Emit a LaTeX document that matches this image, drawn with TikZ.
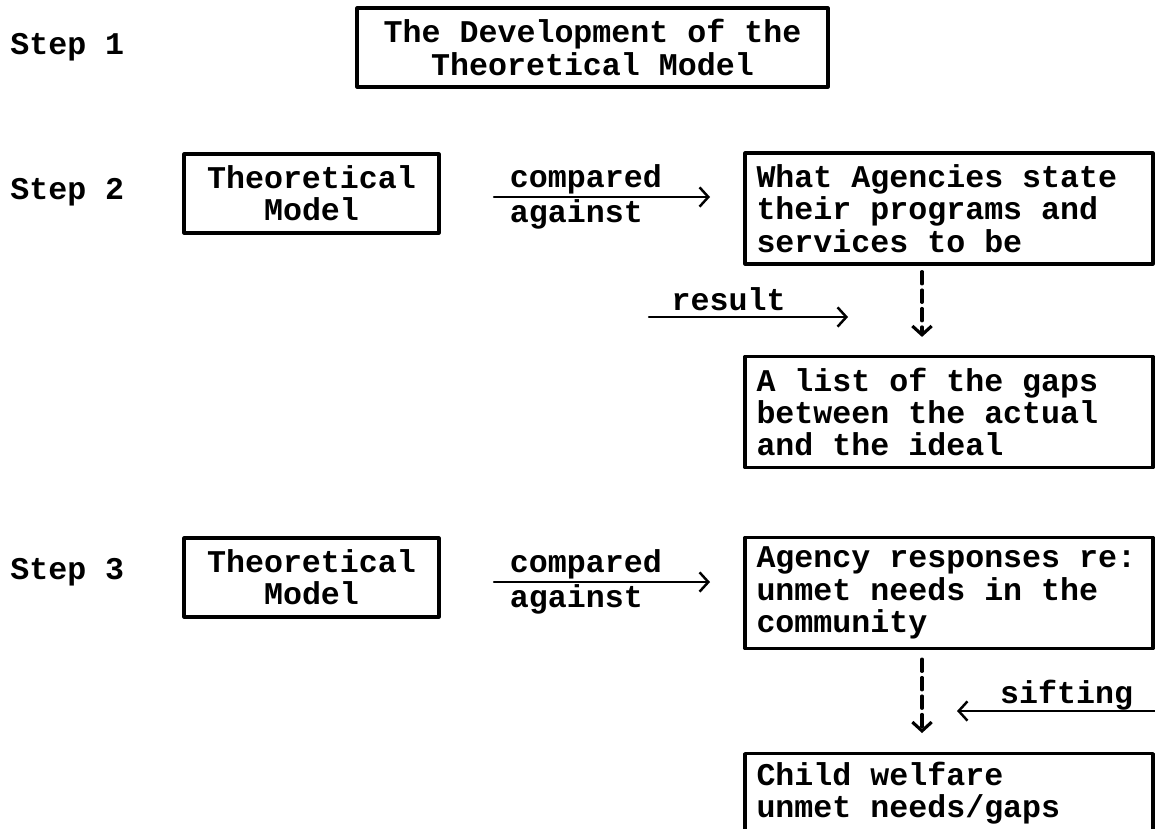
\documentclass[tikz,border=0pt]{standalone}
\usepackage{fontspec}
\setmonofont{Liberation Mono}[WordSpace={1,0,0}]
\usetikzlibrary{arrows.meta}
\begin{document}
\begin{tikzpicture}[line cap=round,line join=round,
  font=\ttfamily\bfseries\fontsize{18}{18.4}\selectfont,
  box/.style={draw,line width=1.8pt,align=center,inner sep=2pt},
  wide/.style={box,align=flush left,text width=7.7cm,inner xsep=0.23cm,minimum height=2.22cm},
  stepl/.style={anchor=west,inner sep=0pt},
  lbl/.style={inner sep=1pt},
  arr/.style={line width=1.4pt,-{Straight Barb[length=5pt,width=11pt]}},
  dasharr/.style={line width=1.8pt,dash pattern=on 7pt off 3.5pt,-{Straight Barb[length=5pt,width=11pt]}}]
  \path[use as bounding box] (0,0) rectangle (23.1,-16.56);
  \clip (0,0) rectangle (23.1,-16.56);
  % step labels
  \node[stepl] (s1) at (0.2,-0.94) {Step 1};
  \node[stepl] (s2) at (0.2,-3.84) {Step 2};
  \node[stepl] (s3) at (0.2,-11.44) {Step 3};
  % boxes
  \node[box,minimum width=9.42cm,minimum height=1.58cm] (devel) at (11.85,-0.95) {The Development of the\\Theoretical Model};
  \node[box,minimum width=5.1cm,minimum height=1.58cm] (theo2) at (6.23,-3.87) {Theoretical\\Model};
  \node[wide] (what) at (18.98,-4.17) {What Agencies state\\their programs and\\services to be};
  \node[wide] (gaps) at (18.98,-8.24) {A list of the gaps\\between the actual\\and the ideal};
  \node[box,minimum width=5.1cm,minimum height=1.58cm] (theo3) at (6.23,-11.55) {Theoretical\\Model};
  \node[wide] (resp) at (18.98,-11.86) {Agency responses re:\\unmet needs in the\\community};
  \node[wide,minimum height=1.58cm,anchor=north] (welf) at (18.98,-15.04) {Child welfare\\unmet needs/gaps};
  % free ends of the arrows
  \coordinate (c2a) at (9.88,-3.94);
  \coordinate (c2b) at (14.2,-3.94);
  \coordinate (ra) at (12.98,-6.34);
  \coordinate (rb) at (16.96,-6.34);
  \coordinate (c3a) at (9.88,-11.64);
  \coordinate (c3b) at (14.2,-11.64);
  \coordinate (sa) at (23.2,-14.22);
  \coordinate (sb) at (19.14,-14.22);
  % arrows
  \draw[arr] (c2a) -- (c2b) node[lbl,pos=0.06,anchor=south west] (c2top) {compared} node[lbl,pos=0.06,anchor=north west] (c2bot) {against};
  \draw[arr] (ra) -- (rb) node[pos=0.4,anchor=south,inner sep=3pt] (rtxt) {result};
  \draw[dasharr] ([xshift=-0.54cm,yshift=-0.12cm]what.south) -- ([xshift=-0.54cm,yshift=0.36cm]gaps.north);
  \draw[arr] (c3a) -- (c3b) node[lbl,pos=0.06,anchor=south west] (c3top) {compared} node[lbl,pos=0.06,anchor=north west] (c3bot) {against};
  \draw[dasharr] ([xshift=-0.54cm,yshift=-0.18cm]resp.south) -- ([xshift=-0.54cm,yshift=0.38cm]welf.north);
  \draw[arr] (sa) -- (sb) node[pos=0.46,anchor=south,inner sep=0pt] (stxt) {sifting};
\end{tikzpicture}
\end{document}
